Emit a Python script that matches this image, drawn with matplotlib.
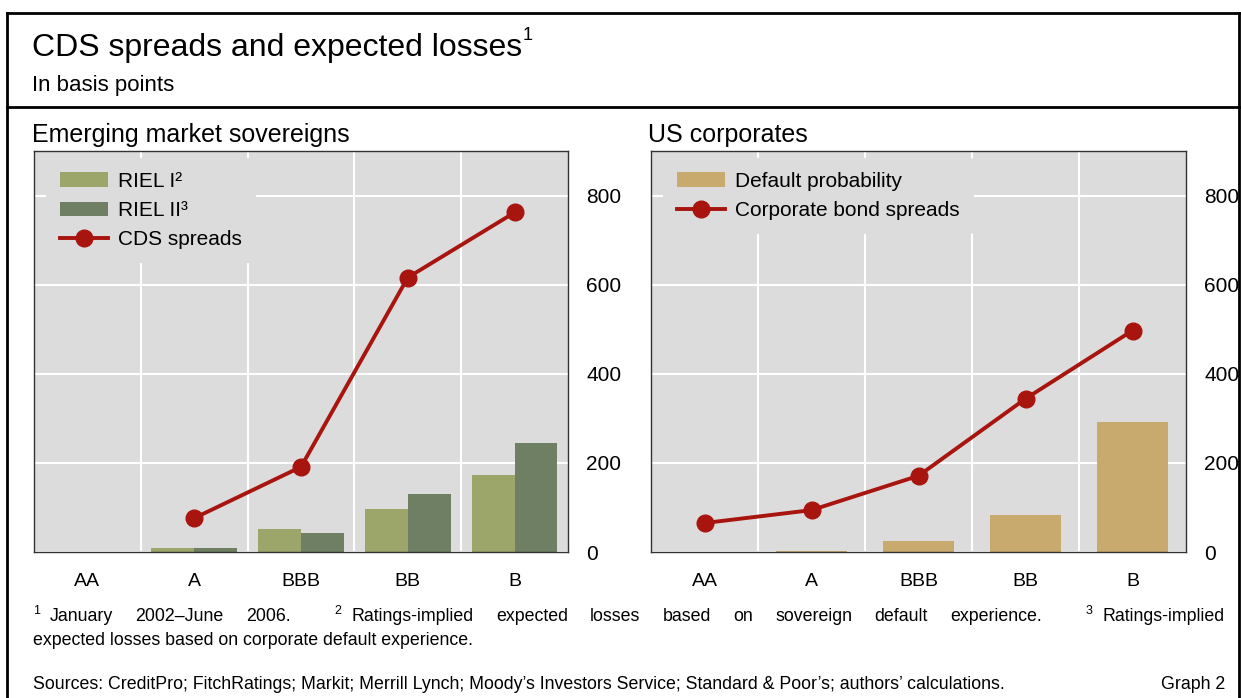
import matplotlib
matplotlib.use("Agg")
import matplotlib.pyplot as plt
from matplotlib.lines import Line2D
import numpy as np

plt.rcParams['font.family'] = ['Liberation Sans', 'DejaVu Sans']

# ----------------- DATA -----------------
ratings = ['AA', 'A', 'BBB', 'BB', 'B']

# Emerging market sovereigns
riel_1 = [0, 9, 52, 97, 172]
riel_2 = [0, 8, 43, 130, 245]
cds_spreads = [np.nan, 76, 191, 616, 762]

# US corporates
default_prob = [0, 3, 24, 83, 292]
bond_spreads = [65, 94, 171, 344, 497]

yticks = [0, 200, 400, 600, 800]

# ----------------- STYLE -----------------
W, H = 1241, 698
BG = '#dcdcdc'
C_RIEL1 = '#9ca66b'
C_RIEL2 = '#6e7f63'
C_DP = '#c8aa6e'
C_LINE = '#a8140e'
YTICK_SIZE = 15
XTICK_SIZE = 14
LEG_SIZE = 15
FOOT = 12.75


def px_axes(fig, x0, y0, x1, y1):
    return fig.add_axes([x0 / W, 1 - y1 / H, (x1 - x0) / W, (y1 - y0) / H])


def style_axes(ax):
    ax.set_facecolor(BG)
    ax.set_xlim(-0.5, 4.5)
    ax.set_ylim(0, 900)
    ax.set_yticks(yticks)
    ax.set_xticks(range(len(ratings)))
    ax.set_xticklabels(ratings)
    ax.set_xticks(np.arange(0.5, 4.5, 1), minor=True)
    ax.yaxis.tick_right()
    ax.tick_params(axis='both', which='both', length=0)
    ax.tick_params(axis='x', pad=15, labelsize=XTICK_SIZE)
    ax.tick_params(axis='y', pad=13, labelsize=YTICK_SIZE)
    ax.grid(True, axis='y', which='major', color='white', lw=1.5)
    ax.grid(True, axis='x', which='minor', color='white', lw=1.5)
    ax.set_axisbelow(True)
    for s in ax.spines.values():
        s.set_color('#333333')
        s.set_linewidth(1)


def add_legend(ax, order):
    h, l = ax.get_legend_handles_labels()
    ax.legend([h[i] for i in order], [l[i] for i in order],
              loc='upper left', bbox_to_anchor=(5 / 535, 1),
              fontsize=LEG_SIZE, frameon=True, facecolor=BG, edgecolor='none',
              framealpha=1, handlelength=2.3, handleheight=0.7, handletextpad=0.5,
              borderaxespad=0.35, labelspacing=0.49, borderpad=0.66)


fig = plt.figure(figsize=(W / 100, H / 100), dpi=100)

x = np.arange(len(ratings))

# ----------------- LEFT PANEL -----------------
ax1 = px_axes(fig, 34, 151, 568, 552)
style_axes(ax1)
ax1.bar(x - 0.2, riel_1, width=0.4, color=C_RIEL1, label='RIEL I²', zorder=2)
ax1.bar(x + 0.2, riel_2, width=0.4, color=C_RIEL2, label='RIEL II³', zorder=2)
ax1.plot(x, cds_spreads, color=C_LINE, lw=2.8, marker='o', ms=12,
         label='CDS spreads', zorder=3)
add_legend(ax1, [1, 2, 0])

# ----------------- RIGHT PANEL -----------------
ax2 = px_axes(fig, 651, 151, 1186, 552)
style_axes(ax2)
ax2.bar(x, default_prob, width=0.66, color=C_DP, label='Default probability', zorder=2)
ax2.plot(x, bond_spreads, color=C_LINE, lw=2.8, marker='o', ms=12,
         label='Corporate bond spreads', zorder=3)
add_legend(ax2, [1, 0])

# ----------------- TEXT -----------------
def fx(px):
    return px / W


def fy(py):
    return 1 - py / H


renderer = fig.canvas.get_renderer()

title = fig.text(fx(32), fy(56), 'CDS spreads and expected losses', fontsize=23,
                 va='baseline')
tw = title.get_window_extent(renderer).width
fig.text(fx(32 + tw + 1), fy(40), '1', fontsize=13, va='baseline')
fig.text(fx(32), fy(91), 'In basis points', fontsize=16, va='baseline')
fig.text(fx(32), fy(142), 'Emerging market sovereigns', fontsize=18, va='baseline')
fig.text(fx(648), fy(142), 'US corporates', fontsize=18, va='baseline')

# justified first footnote line: (superscript, word, gap weight after the word)
groups = [('1', 'January', 1), ('', '2002–June', 1), ('', '2006.', 2),
          ('2', 'Ratings-implied', 1), ('', 'expected', 1), ('', 'losses', 1),
          ('', 'based', 1), ('', 'on', 1), ('', 'sovereign', 1), ('', 'default', 1),
          ('', 'experience.', 2), ('3', 'Ratings-implied', 0)]

SUP_SPACE = 10
items = []
total = 0
for sup, word, weight in groups:
    s = None
    sw = 0
    if sup:
        s = fig.text(0, fy(614), sup, fontsize=FOOT * 0.7, va='baseline')
        sw = s.get_window_extent(renderer).width + SUP_SPACE
    t = fig.text(0, fy(621), word, fontsize=FOOT, va='baseline')
    w = t.get_window_extent(renderer).width
    items.append((s, sw, t, w, weight))
    total += sw + w
x0, x1 = 33, 1225
gap = (x1 - x0 - total) / sum(g[2] for g in groups)
pos = x0
for s, sw, t, w, weight in items:
    if s is not None:
        s.set_x(fx(pos))
    t.set_x(fx(pos + sw))
    pos += sw + w + gap * weight

fig.text(fx(33), fy(645), 'expected losses based on corporate default experience.',
         fontsize=FOOT, va='baseline')
fig.text(fx(33), fy(689), "Sources: CreditPro; FitchRatings; Markit; Merrill Lynch; "
         "Moody’s Investors Service; Standard & Poor’s; authors’ calculations.",
         fontsize=FOOT, va='baseline')
fig.text(fx(1225), fy(689), 'Graph 2', fontsize=FOOT, va='baseline', ha='right')

# ----------------- FRAME -----------------
frame_kw = dict(color='black', lw=2, transform=fig.transFigure, solid_capstyle='projecting')
fig.add_artist(Line2D([fx(7), fx(1239)], [fy(13), fy(13)], **frame_kw))
fig.add_artist(Line2D([fx(7), fx(1239)], [fy(107), fy(107)], **frame_kw))
fig.add_artist(Line2D([fx(7), fx(7)], [fy(13), 0], **frame_kw))
fig.add_artist(Line2D([fx(1239), fx(1239)], [fy(13), 0], **frame_kw))

fig.savefig('out.png', dpi=100)
